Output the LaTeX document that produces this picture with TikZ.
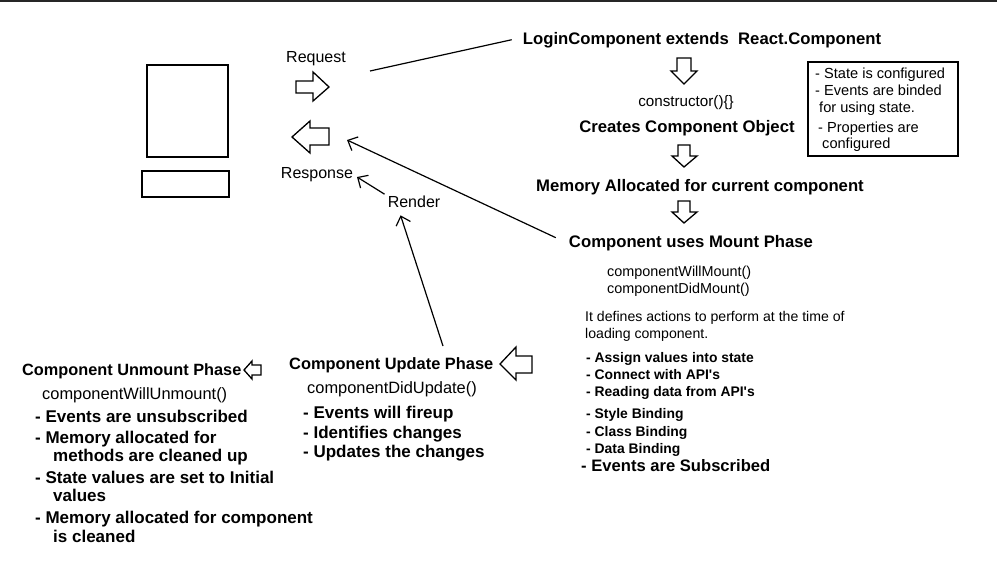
\documentclass[tikz,border=0pt]{standalone}
\usepackage{fontspec}
\setmainfont{Liberation Sans}
\usetikzlibrary{arrows.meta}
\begin{document}
\begin{tikzpicture}[x=1pt,y=-1pt,
  every node/.style={inner sep=0pt},
  ttl/.style={font=\fontsize{16.7}{20}\selectfont\bfseries, anchor=base},
  ttlw/.style={font=\fontsize{16.4}{20}\selectfont\bfseries, anchor=base west},
  lbl/.style={font=\fontsize{16}{19}\selectfont, anchor=base},
  fnw/.style={font=\fontsize{16.4}{19}\selectfont, anchor=base west},
  fn/.style={font=\fontsize{14.4}{17}\selectfont, anchor=base west},
  small/.style={font=\fontsize{14.1}{17}\selectfont, anchor=base west},
  notetxt/.style={font=\fontsize{14.6}{17}\selectfont, anchor=base west},
  mlist/.style={font=\fontsize{13.9}{16}\selectfont\bfseries, anchor=base west},
  blist/.style={font=\fontsize{17}{20}\selectfont\bfseries, anchor=base west},
  blk/.style={draw=black, line width=1.3pt, fill=white, line join=miter},
  con/.style={draw=black, line width=1.2pt, -{Straight Barb[length=8pt,width=15pt,line width=1.2pt]}},
  plain/.style={draw=black, line width=1.2pt}
]
\useasboundingbox (0,0) rectangle (997,562);
\fill[black!85] (0,0) rectangle (997,2.2);

% monitor
\draw[line width=1.4pt] (147,65) rectangle (228,157);
\draw[line width=1.4pt] (142,171) rectangle (229,197);

% request / response block arrows
\node[lbl] (req) at (316,62) {Request};
\draw[blk] (296,81) -- (313,81) -- (313,72) -- (329,87) -- (313,101) -- (313,93) -- (296,93) -- cycle;
\draw[blk] (329,128) -- (310,128) -- (310,121) -- (292,137) -- (310,153) -- (310,145) -- (329,145) -- cycle;
\node[lbl] (resp) at (317,178) {Response};
\node[lbl] (render) at (414,207) {Render};

% right column
\node[ttl] (login) at (702,44) {LoginComponent extends\ \ React.Component};
\draw[blk] (677,58) -- (691,58) -- (691,71) -- (697,71) -- (684,84) -- (671,71) -- (677,71) -- cycle;
\node[font=\fontsize{15.2}{18}\selectfont, anchor=base] (ctor) at (686,106.5) {constructor()\{\}};
\node[ttl] (creates) at (687,132) {Creates Component Object};
\draw[blk] (678,145) -- (690,145) -- (690,156) -- (697,156) -- (684,167) -- (672,156) -- (678,156) -- cycle;
\node[ttl] (memory) at (700,191) {Memory Allocated for current component};
\draw[blk] (678,201) -- (690,201) -- (690,212) -- (697,212) -- (684,223) -- (672,212) -- (678,212) -- cycle;
\node[ttl] (mount) at (691,247) {Component uses Mount Phase};

% note box
\draw[line width=1.2pt] (808,62) rectangle (958,156);
\node[notetxt] (n1) at (815,78) {- State is configured};
\node[notetxt] (n2) at (815,95) {- Events are binded};
\node[notetxt] (n3) at (819,112) {for using state.};
\node[notetxt] (n4) at (818,132) {- Properties are};
\node[notetxt] (n5) at (822,148) {configured};

% mount details
\node[fn] (wm) at (607,276) {componentWillMount()};
\node[fn] (dm) at (607,293) {componentDidMount()};
\node[small] (d1) at (585,321) {It defines actions to perform at the time of};
\node[small] (d2) at (585,338) {loading component.};
\node[mlist] (m1) at (586,362) {- Assign values into state};
\node[mlist] (m2) at (586,379) {- Connect with API\textquotesingle s};
\node[mlist] (m3) at (586,396) {- Reading data from API\textquotesingle s};
\node[mlist] (m4) at (586,418) {- Style Binding};
\node[mlist] (m5) at (586,436) {- Class Binding};
\node[mlist] (m6) at (586,453) {- Data Binding};
\node[font=\fontsize{16.6}{20}\selectfont\bfseries, anchor=base west] (m7) at (581,471) {- Events are Subscribed};

% update phase
\node[ttlw] (update) at (289,369) {Component Update Phase};
\draw[blk] (532,356) -- (516,356) -- (516,347) -- (500,364) -- (516,380) -- (516,373) -- (532,373) -- cycle;
\node[fnw] (du) at (307,393) {componentDidUpdate()};
\node[blist] (u1) at (303,418) {- Events will fireup};
\node[blist] (u2) at (303,438) {- Identifies changes};
\node[blist] (u3) at (303,457) {- Updates the changes};

% unmount phase
\node[font=\fontsize{16.3}{20}\selectfont\bfseries, anchor=base west] (unmount) at (22,375) {Component Unmount Phase};
\draw[blk] (261,365) -- (252,365) -- (252,361) -- (244,370) -- (252,379) -- (252,375) -- (261,375) -- cycle;
\node[fnw] (wu) at (42,399) {componentWillUnmount()};
\node[blist] (k1) at (35,422) {- Events are unsubscribed};
\node[blist] (k2) at (35,443) {- Memory allocated for};
\node[blist] (k3) at (53,461) {methods are cleaned up};
\node[blist] (k4) at (35,483) {- State values are set to Initial};
\node[blist] (k5) at (53,501) {values};
\node[blist] (k6) at (35,523) {- Memory allocated for component};
\node[blist] (k7) at (53,542) {is cleaned};

% connectors
\coordinate (reqEnd) at (370,71);
\draw[plain] (reqEnd) -- ([xshift=-11pt]login.west);
\coordinate (respTip) at (347,140);
\draw[con] ([shift={(-13,-5)}]mount.west) -- (respTip);
\coordinate (renderTip) at (357,177);
\draw[con] ([shift={(-3,-1)}]render.north west) -- (renderTip);
\coordinate (updStart) at (443,346);
\draw[con] (updStart) -- ([shift={(13,8)}]render.south west);
\end{tikzpicture}
\end{document}
